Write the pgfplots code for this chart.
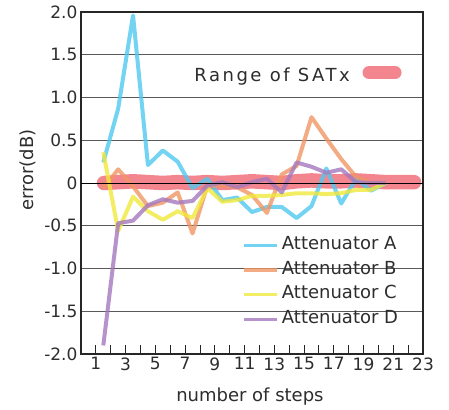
\documentclass[border=0pt]{standalone}
\usepackage{fontspec}
\setmainfont{DejaVu Sans}
\usepackage{pgfplots}
\pgfplotsset{compat=1.18}
\definecolor{cA}{RGB}{80,200,240}
\definecolor{cB}{RGB}{240,150,100}
\definecolor{cC}{RGB}{240,232,60}
\definecolor{cD}{RGB}{165,120,190}
\definecolor{satx}{RGB}{240,112,122}
\definecolor{txt}{RGB}{45,45,45}
\begin{document}
\begin{tikzpicture}
\begin{axis}[
  name=ax,
  scale only axis, width=342pt, height=342pt,
  xmin=0, xmax=23, ymin=-2, ymax=2,
  xtick={1,...,23},
  xticklabels={1,,3,,5,,7,,9,,11,,13,,15,,17,,19,,21,,23},
  ytick={-2,-1.5,-1,-0.5,0,0.5,1,1.5,2},
  yticklabels={-2.0,-1.5,-1.0,-0.5,0,0.5,1.0,1.5,2.0},
  /pgf/number format/assume math mode=true,
  ymajorgrids,
  grid style={black!65, line width=0.9pt},
  axis line style={line width=1.8pt, black!85},
  tick align=inside,
  xtick pos=bottom, ytick pos=left,
  major tick length=9pt,
  xtick style={black!85, line width=0.9pt},
  ytick style={draw=none},
  ticklabel style={font=\fontsize{17}{17}\selectfont, text=txt},
  xlabel={number of steps},
  ylabel={error(dB)},
  label style={font=\fontsize{18}{20}\selectfont, text=txt},
  xlabel style={at={(axis description cs:0.494,-0.125)}, anchor=center},
  ylabel style={at={(axis description cs:-0.155,0.538)}, anchor=center, rotate=0},
  legend style={draw=none, fill=none, at={(axis description cs:0.471,0.354)}, anchor=north west,
    font=\fontsize{18}{20}\selectfont, text=txt,
    nodes={text height=13pt, text depth=4.6pt, inner sep=3.5pt}, inner xsep=0pt, inner ysep=0pt},
  legend cell align=left,
  legend image code/.code={\draw[#1, line width=3.2pt] (0pt,0pt) -- (33pt,0pt);},
  every axis plot/.append style={line width=4pt, line join=round, opacity=0.8},
  clip=false,
]
% Range of SATx band
\addplot[forget plot, satx, line width=14.5pt, line cap=round, opacity=0.85] coordinates {
 (1.55,0.0) (2.5,0.01) (3.5,0.02) (4.5,0.01) (5.5,0.0) (6.5,0.01) (7.5,0.0) (8.5,0.01)
 (9.5,0.0) (10.5,0.01) (11.5,0.02) (12.5,0.01) (13.5,0.0) (14.5,0.02) (15.5,0.03)
 (16.5,0.02) (17.5,0.02) (18.5,0.03) (19.5,0.02) (20.5,0.01) (21.5,0.01) (22.4,0.01)};
\addplot[cA] coordinates {
 (1.5,0.24) (2.5,0.87) (3.5,1.96) (4.5,0.21) (5.5,0.38) (6.5,0.25) (7.5,-0.06) (8.5,0.05)
 (9.5,-0.20) (10.5,-0.17) (11.5,-0.34) (12.5,-0.28) (13.5,-0.28) (14.5,-0.41) (15.5,-0.27)
 (16.5,0.17) (17.5,-0.24) (18.5,0.05) (19.5,-0.09) (20.5,0.0)};
\addlegendentry{Attenuator A}
\addplot[cB] coordinates {
 (1.5,-0.06) (2.5,0.16) (3.5,-0.04) (4.5,-0.27) (5.5,-0.23) (6.5,-0.11) (7.5,-0.59) (8.5,-0.03)
 (9.5,-0.03) (10.5,-0.05) (11.5,-0.14) (12.5,-0.35) (13.5,0.10) (14.5,0.20) (15.5,0.77)
 (16.5,0.52) (17.5,0.28) (18.5,0.07) (19.5,0.0) (20.5,0.0)};
\addlegendentry{Attenuator B}
\addplot[cC] coordinates {
 (1.5,0.36) (2.5,-0.56) (3.5,-0.16) (4.5,-0.33) (5.5,-0.43) (6.5,-0.33) (7.5,-0.41) (8.5,-0.06)
 (9.5,-0.22) (10.5,-0.20) (11.5,-0.15) (12.5,-0.15) (13.5,-0.14) (14.5,-0.12) (15.5,-0.12)
 (16.5,-0.13) (17.5,-0.12) (18.5,-0.08) (19.5,-0.08) (20.5,0.0)};
\addlegendentry{Attenuator C}
\addplot[cD] coordinates {
 (1.5,-1.90) (2.5,-0.47) (3.5,-0.44) (4.5,-0.26) (5.5,-0.19) (6.5,-0.23) (7.5,-0.21) (8.5,-0.03)
 (9.5,0.01) (10.5,-0.05) (11.5,0.01) (12.5,0.05) (13.5,-0.11) (14.5,0.24) (15.5,0.19)
 (16.5,0.12) (17.5,0.16) (18.5,0.01) (19.5,0.0) (20.5,0.0)};
\addlegendentry{Attenuator D}
% zero line
\addplot[forget plot, black, line width=0.9pt, opacity=1] coordinates {(0,0) (23,0)};
% SATx legend
\node[anchor=base east, font=\fontsize{18}{20}\selectfont\addfontfeatures{LetterSpace=14}, text=txt, inner sep=0pt]
  at (axis cs:18.09,1.19) {Range of SATx};
\draw[satx, line width=13pt, line cap=round, opacity=0.85] (axis cs:19.37,1.29) -- (axis cs:21.12,1.29);
\end{axis}
\pgfresetboundingbox
\path[use as bounding box] ([shift={(-81pt,-55pt)}]ax.south west) rectangle ([shift={(26pt,12pt)}]ax.north east);
\end{tikzpicture}
\end{document}
